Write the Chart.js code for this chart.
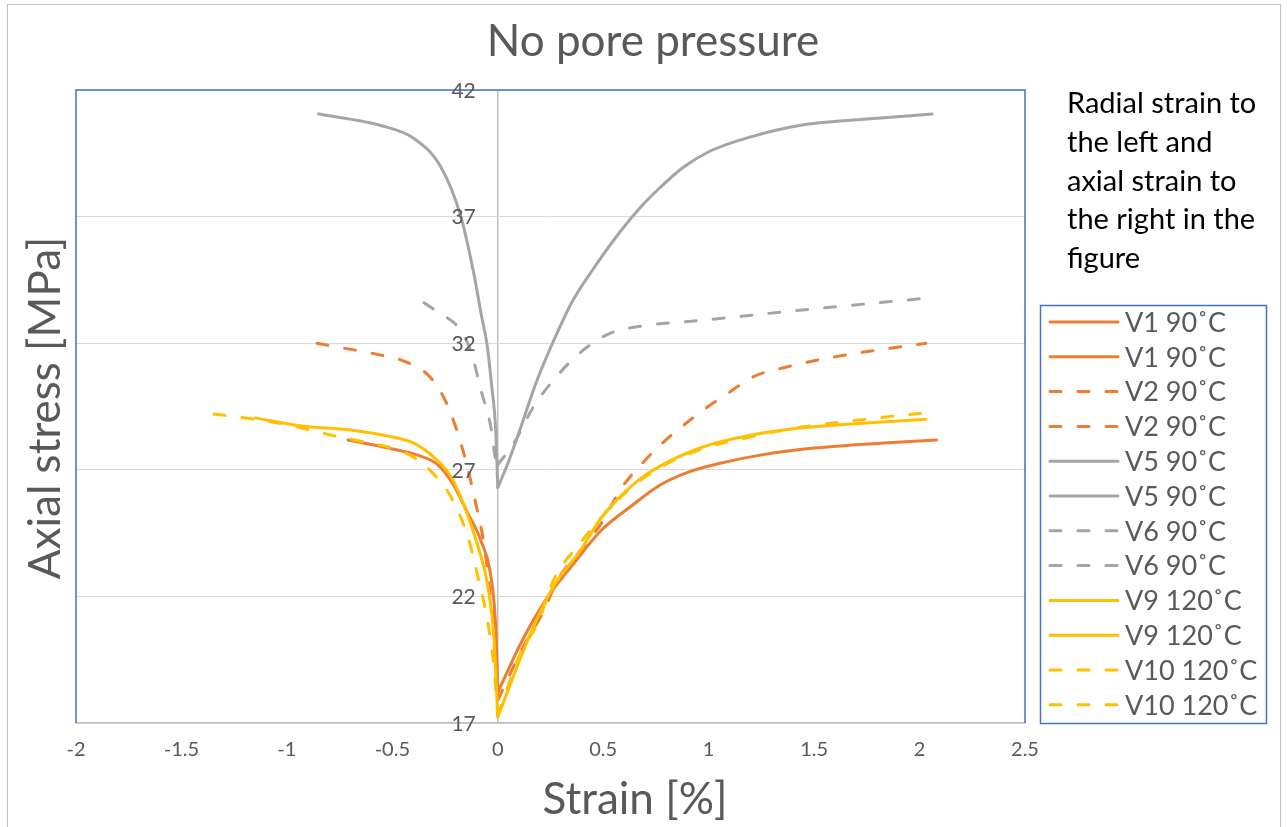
<!DOCTYPE html>
<html lang="en">
<head>
<meta charset="UTF-8">
<title>No pore pressure</title>
<script src="https://cdn.jsdelivr.net/npm/chart.js@4.4.0/dist/chart.umd.min.js"></script>
<style>
  html, body { margin: 0; padding: 0; background: #fff; }
  #wrap { position: relative; width: 1287px; height: 827px; }
</style>
</head>
<body>
<div id="wrap"><canvas id="chart" width="1287" height="827"></canvas></div>
<script>
// series labels (each test has a radial curve on the left and an axial curve on the right)
const labels = ['V1 90˚C', 'V1 90˚C', 'V2 90˚C', 'V2 90˚C', 'V5 90˚C', 'V5 90˚C',
                'V6 90˚C', 'V6 90˚C', 'V9 120˚C', 'V9 120˚C', 'V10 120˚C', 'V10 120˚C'];

// strain [%] / axial stress [MPa]
const v1RadX = [-0.71, -0.52, -0.38, -0.285, -0.21, -0.145, -0.08, -0.033, -0.01, 0];
const v1RadY = [28.18, 27.86, 27.58, 27.2, 26.4, 25.33, 24.2, 22.8, 20.8, 18.2];
const v1AxX = [0, 0.11, 0.236, 0.36, 0.49, 0.63, 0.77, 0.9, 1.06, 1.245, 1.5, 1.83, 2.08];
const v1AxY = [18.2, 20.16, 21.97, 23.3, 24.6, 25.55, 26.4, 26.9, 27.27, 27.58, 27.86, 28.06, 28.18];

const v2RadX = [-0.857, -0.555, -0.46, -0.33, -0.255, -0.2, -0.15, -0.1, -0.066, -0.034, -0.01, 0];
const v2RadY = [32.0, 31.53, 31.34, 30.74, 29.84, 28.7, 27.3, 25.5, 24.1, 21.97, 20.3, 17.9];
const v2AxX = [0, 0.12, 0.22, 0.28, 0.4, 0.5, 0.58, 0.69, 0.8, 0.975, 1.1, 1.21, 1.37, 1.59, 2.03];
const v2AxY = [17.9, 20.0, 21.46, 22.6, 23.9, 25.0, 26.2, 27.3, 28.2, 29.36, 30.07, 30.67, 31.06, 31.45, 32.0];

const v5RadX = [-0.85, -0.7, -0.555, -0.4, -0.27, -0.175, -0.11, -0.08, -0.05, -0.03, -0.01, 0];
const v5RadY = [41.05, 40.85, 40.6, 40.1, 38.96, 37.0, 34.6, 33.2, 31.9, 30.4, 28.6, 26.3];
const v5AxX = [0, 0.05, 0.11, 0.18, 0.265, 0.35, 0.45, 0.58, 0.68, 0.77, 0.88, 1.01, 1.2, 1.43, 1.75, 2.06];
const v5AxY = [26.3, 27.3, 28.7, 30.4, 32.1, 33.6, 34.9, 36.4, 37.4, 38.15, 38.95, 39.6, 40.15, 40.6, 40.85, 41.05];

const v6RadX = [-0.35, -0.28, -0.19, -0.128, -0.08, -0.033, -0.01, 0];
const v6RadY = [33.6, 33.2, 32.65, 31.7, 30.15, 28.7, 27.4, 27.2];
const v6AxX = [0, 0.077, 0.17, 0.265, 0.36, 0.45, 0.535, 0.7, 0.96, 1.43, 2.06];
const v6AxY = [27.2, 28.06, 29.5, 30.55, 31.4, 32.0, 32.4, 32.7, 32.9, 33.3, 33.8];

const v9RadX = [-1.15, -0.93, -0.7, -0.52, -0.4, -0.3, -0.22, -0.16, -0.095, -0.047, -0.018, 0];
const v9RadY = [29.05, 28.73, 28.57, 28.33, 28.06, 27.47, 26.7, 25.6, 24.0, 22.4, 20.3, 17.24];
const v9AxX = [0, 0.156, 0.265, 0.39, 0.49, 0.6, 0.72, 0.96, 1.2, 1.43, 1.75, 2.03];
const v9AxY = [17.24, 20.55, 22.4, 23.8, 25.1, 26.1, 26.9, 27.86, 28.37, 28.65, 28.85, 29.0];

const v10RadX = [-1.345, -1.2, -1.01, -0.806, -0.68, -0.52, -0.4, -0.3, -0.22, -0.14, -0.095, -0.047, -0.018, 0];
const v10RadY = [29.2, 29.05, 28.8, 28.4, 28.18, 27.9, 27.5, 26.8, 25.9, 24.3, 22.8, 20.95, 19.2, 17.3];
const v10AxX = [0, 0.11, 0.19, 0.265, 0.39, 0.5, 0.62, 0.75, 0.96, 1.2, 1.45, 1.75, 2.01];
const v10AxY = [17.3, 19.8, 20.95, 22.65, 24.1, 25.2, 26.2, 27.0, 27.8, 28.3, 28.7, 29.0, 29.24];

const seriesX = [v1RadX, v1AxX, v2RadX, v2AxX, v5RadX, v5AxX, v6RadX, v6AxX, v9RadX, v9AxX, v10RadX, v10AxX];
const seriesY = [v1RadY, v1AxY, v2RadY, v2AxY, v5RadY, v5AxY, v6RadY, v6AxY, v9RadY, v9AxY, v10RadY, v10AxY];
const colors = ['#ED7D31', '#ED7D31', '#ED7D31', '#ED7D31', '#A5A5A5', '#A5A5A5',
                '#A5A5A5', '#A5A5A5', '#FFC000', '#FFC000', '#FFC000', '#FFC000'];
const dashed = [false, false, true, true, false, false, true, true, false, false, true, true];

const DASH = [11, 17];
const FONT = 'Lato, "Open Sans", sans-serif';
const TXT = '#595959';

const datasets = labels.map((lab, i) => ({
    label: lab,
    data: seriesX[i].map((x, j) => ({ x: x, y: seriesY[i][j] })),
    borderColor: colors[i],
    borderWidth: 3,
    borderDash: dashed[i] ? DASH : [],
    borderCapStyle: 'round',
    borderJoinStyle: 'round',
    pointRadius: 0,
    fill: false,
    cubicInterpolationMode: 'monotone',
    order: labels.length - i
}));

const decor = {
    id: 'decor',
    beforeDraw(chart) {
        const ctx = chart.ctx;
        ctx.save();
        ctx.fillStyle = '#fff';
        ctx.fillRect(0, 0, chart.width, chart.height);
        ctx.restore();
    },
    afterDraw(chart) {
        const { ctx, chartArea: a, scales: { x, y } } = chart;
        ctx.save();

        // plot frame (blue on top/left/right)
        ctx.strokeStyle = '#4472C4';
        ctx.lineWidth = 1.5;
        ctx.beginPath();
        ctx.moveTo(a.left, a.bottom);
        ctx.lineTo(a.left, a.top);
        ctx.lineTo(a.right, a.top);
        ctx.lineTo(a.right, a.bottom);
        ctx.stroke();

        // y tick labels sit next to the x=0 axis
        ctx.fillStyle = TXT;
        ctx.font = '21px ' + FONT;
        ctx.textAlign = 'right';
        ctx.textBaseline = 'middle';
        const x0 = x.getPixelForValue(0);
        y.ticks.forEach(t => {
            ctx.fillText(String(t.value), x0 - 22, y.getPixelForValue(t.value) + 1);
        });

        // titles
        ctx.textAlign = 'center';
        ctx.font = '44px ' + FONT;
        ctx.fillText('No pore pressure', 653, 42);
        ctx.fillText('Strain [%]', 635, 800);
        ctx.save();
        ctx.translate(46, 408);
        ctx.rotate(-Math.PI / 2);
        ctx.fillText('Axial stress [MPa]', 0, 0);
        ctx.restore();

        // note
        ctx.fillStyle = '#000';
        ctx.textAlign = 'left';
        ctx.font = '29px ' + FONT;
        ['Radial strain to', 'the left and', 'axial strain to', 'the right in the', 'figure']
            .forEach((s, i) => ctx.fillText(s, 1067, 104 + i * 38.7));

        // legend
        ctx.strokeStyle = '#4472C4';
        ctx.lineWidth = 1.5;
        ctx.strokeRect(1040.5, 305.5, 226, 418);
        ctx.font = '27px ' + FONT;
        ctx.fillStyle = TXT;
        datasets.forEach((d, i) => {
            const ly = 322 + i * 34.8;
            ctx.strokeStyle = d.borderColor;
            ctx.lineWidth = 3;
            ctx.lineCap = 'round';
            ctx.setLineDash(d.borderDash);
            ctx.beginPath();
            ctx.moveTo(1050, ly);
            ctx.lineTo(1118, ly);
            ctx.stroke();
            ctx.setLineDash([]);
            ctx.fillText(d.label, 1125, ly + 1);
        });

        // outer chart border
        ctx.strokeStyle = '#BFBFBF';
        ctx.lineWidth = 1;
        ctx.strokeRect(7.5, 4.5, 1273, 840);
        ctx.restore();
    }
};

new Chart(document.getElementById('chart'), {
    type: 'line',
    data: { datasets: datasets },
    options: {
        responsive: false,
        animation: false,
        layout: { padding: { left: 76, top: 90, right: 262, bottom: 64 } },
        plugins: { legend: { display: false }, title: { display: false }, tooltip: { enabled: false } },
        scales: {
            x: {
                type: 'linear', min: -2, max: 2.5,
                ticks: {
                    stepSize: 0.5, padding: 15, color: TXT, font: { family: FONT, size: 20 },
                    callback: v => String(v)
                },
                grid: {
                    drawTicks: false,
                    lineWidth: 1.5,
                    color: c => (c.tick && c.tick.value === 0) ? '#BFBFBF' : 'rgba(0,0,0,0)'
                },
                border: { color: '#BFBFBF', width: 1.5 },
                afterFit(s) { s.height = 40; }
            },
            y: {
                type: 'linear', min: 17, max: 42,
                ticks: { stepSize: 5, display: false },
                grid: { drawTicks: false, color: '#D9D9D9', lineWidth: 1 },
                border: { display: false },
                afterFit(s) { s.width = 0; }
            }
        }
    },
    plugins: [decor]
});
</script>
</body>
</html>
